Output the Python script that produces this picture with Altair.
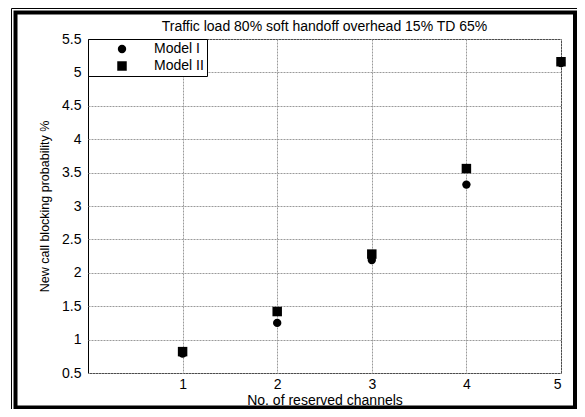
import altair as alt
import pandas as pd

channels = [1, 2, 3, 4, 5]
model_1 = [0.79, 1.25, 2.19, 3.32, 5.14]
model_2 = [0.82, 1.42, 2.28, 3.56, 5.16]
series_names = ["Model I", "Model II"]
y_ticks = [0.5, 1, 1.5, 2, 2.5, 3, 3.5, 4, 4.5, 5, 5.5]
x_ticks = [1, 2, 3, 4, 5]

rows = []
for x, v in zip(channels, model_2):
    rows.append({"ch": x, "val": v, "model": "Model II"})
for x, v in zip(channels, model_1):
    rows.append({"ch": x, "val": v, "model": "Model I"})
df = pd.DataFrame(rows)

FONT = "Liberation Sans"
PH = 334
PW = 473

points = alt.Chart(df).mark_point(filled=True, opacity=1).encode(
    x=alt.X("ch:Q", scale=alt.Scale(domain=[0, 5], nice=False),
            axis=alt.Axis(values=x_ticks, title="No. of reserved channels", format="d",
                          labelPadding=4, titlePadding=2, titleFontSize=14)),
    y=alt.Y("val:Q", scale=alt.Scale(domain=[0.5, 5.5], nice=False),
            axis=alt.Axis(values=y_ticks, title="New call blocking probability %", format="~g",
                          labelPadding=7, titlePadding=10, titleFontSize=12.5)),
    color=alt.Color("model:N", scale=alt.Scale(domain=series_names, range=["black", "black"]),
                    legend=alt.Legend(title=None)),
    shape=alt.Shape("model:N", scale=alt.Scale(domain=series_names, range=["circle", "square"]),
                    legend=alt.Legend(title=None)),
    size=alt.Size("model:N", scale=alt.Scale(domain=series_names, range=[70, 90]), legend=None),
)

frame_data = alt.Data(values=[{"a": 1}])
outer = alt.Chart(frame_data).mark_rect(fill=None, stroke="black", strokeWidth=1).encode(
    x=alt.value(-76.5), x2=alt.value(PW + 20), y=alt.value(-30.5), y2=alt.value(PH + 40)
)
inner = alt.Chart(frame_data).mark_rect(fill=None, stroke="black", strokeWidth=4).encode(
    x=alt.value(-72.5), x2=alt.value(PW + 14), y=alt.value(-26.5), y2=alt.value(PH + 34.5)
)

chart = alt.layer(outer, inner, points).properties(
    width=PW, height=PH,
    padding={"left": 80, "top": 31, "right": 16, "bottom": 36},
    autosize=alt.AutoSizeParams(type="none"),
    title=alt.Title("Traffic load 80% soft handoff overhead 15% TD 65%", fontSize=14,
                    fontWeight="normal", font=FONT, anchor="middle", offset=8, dy=34,
                    color="black"),
).configure_view(
    stroke="black", strokeWidth=1
).configure_axis(
    grid=True, gridColor="#9a9a9a", gridWidth=1, gridDash=[2, 1], ticks=False, domain=False,
    labelFont=FONT, titleFont=FONT, labelFontSize=14, labelColor="black",
    titleColor="black", titleFontWeight="normal"
).configure_legend(
    orient="none", legendX=0, legendY=0, strokeColor="black", fillColor="white",
    padding=3, symbolOffset=24, labelOffset=25, labelFont=FONT, labelFontSize=14,
    labelColor="black", symbolSize=70, rowPadding=3, cornerRadius=0
)

chart.save("out.html", embed_options={"renderer": "svg", "actions": False})
